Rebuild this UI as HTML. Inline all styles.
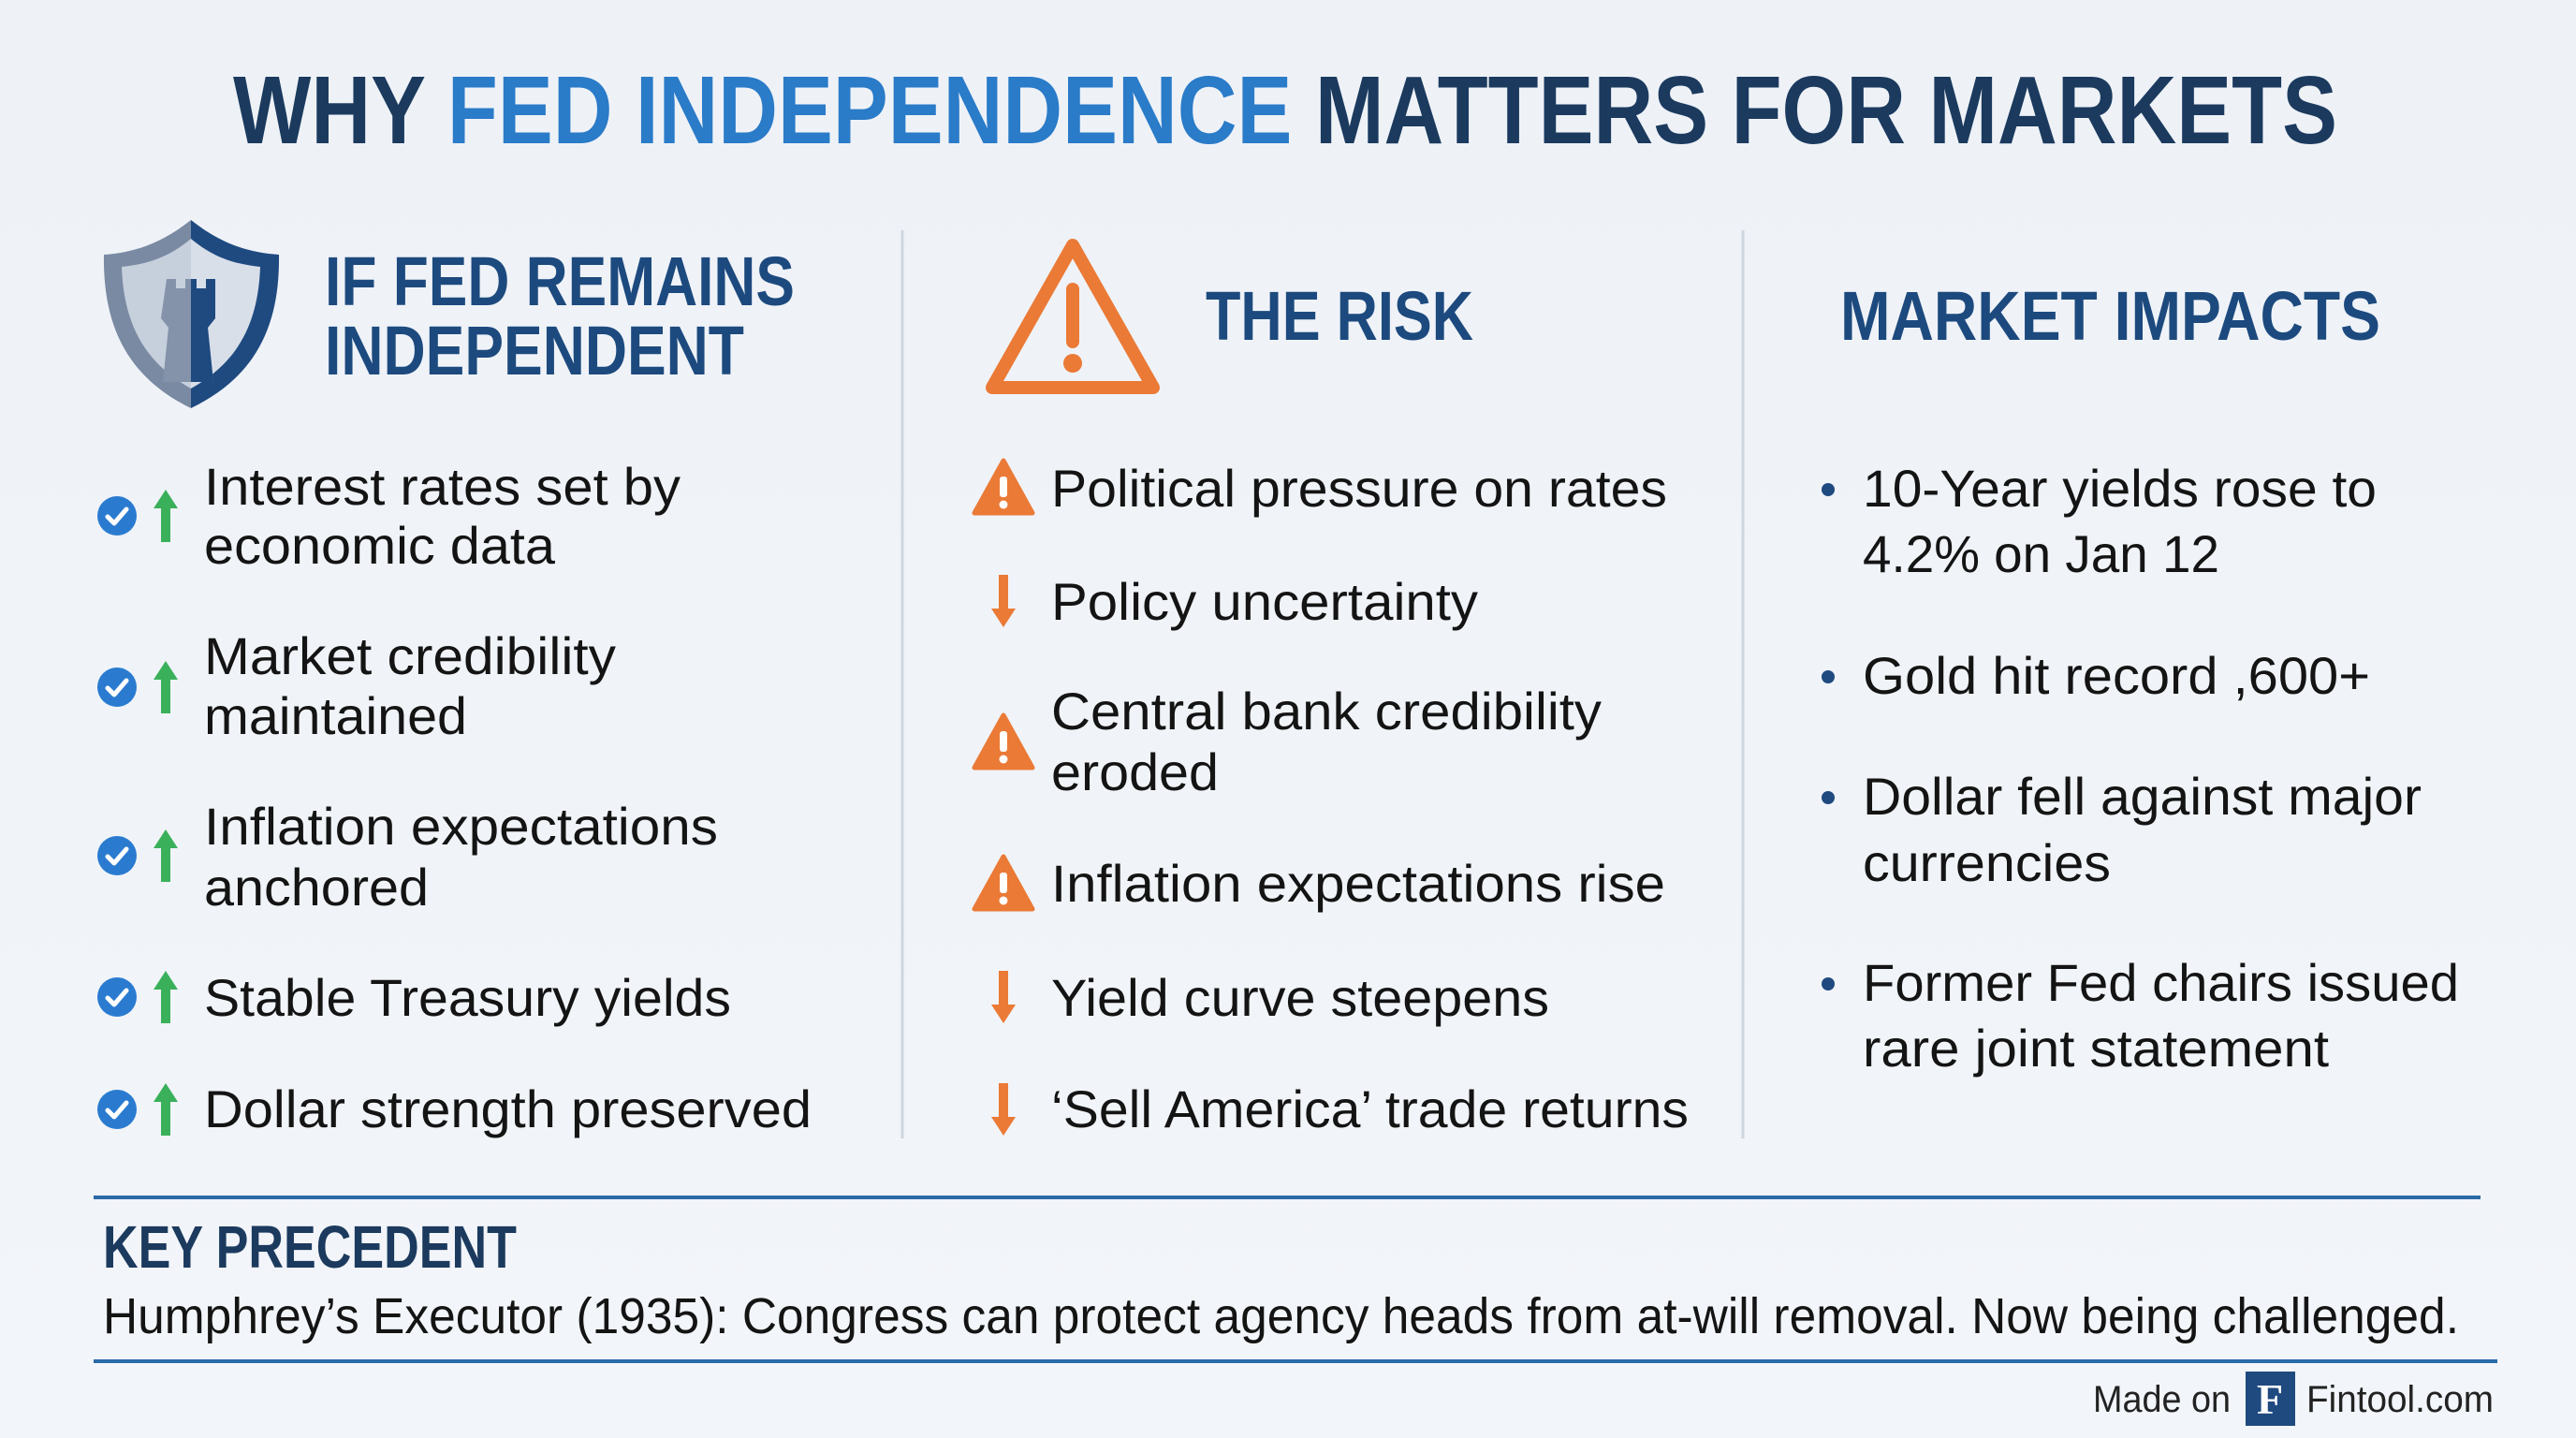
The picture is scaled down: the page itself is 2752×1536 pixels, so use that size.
<!DOCTYPE html>
<html><head><meta charset="utf-8"><style>
html,body{margin:0;padding:0;background:#eef2f7;}
svg{display:block}
text{font-family:"Liberation Sans",sans-serif;}
.h{font-weight:bold;fill:#1d4a7e;font-size:74px}
.b{fill:#141414;font-size:56px}
</style></head><body>
<svg width="2752" height="1536" viewBox="0 0 2752 1536" xmlns="http://www.w3.org/2000/svg">
<defs>
<linearGradient id="bg" x1="0" y1="0" x2="0" y2="1"><stop offset="0" stop-color="#eef2f7"/><stop offset="1" stop-color="#f2f5f9"/></linearGradient>
<g id="chk"><circle r="21" fill="#2a7bd0"/><path d="M-10 1 L-3 8 L10 -7" stroke="#fff" stroke-width="5" fill="none" stroke-linecap="round" stroke-linejoin="round"/></g>
<g id="up"><path d="M0 -28 L-13 -8 L-5 -8 L-5 28 L5 28 L5 -8 L13 -8 Z" fill="#3bb05a"/></g>
<g id="dn"><path d="M0 28 L-13 8 L-5 8 L-5 -28 L5 -28 L5 8 L13 8 Z" fill="#ea7a36"/></g>
<g id="wr"><path d="M0 -29 L31 27 L-31 27 Z" fill="#ea7a36" stroke="#ea7a36" stroke-width="5" stroke-linejoin="round"/><rect x="-4" y="-12" width="8" height="22" rx="3" fill="#fff"/><circle cy="18" r="4.5" fill="#fff"/></g>
</defs>
<rect width="2752" height="1536" fill="url(#bg)"/>

<text x="249" y="153" font-size="103" font-weight="bold" fill="#1b3a5e" textLength="2248" lengthAdjust="spacingAndGlyphs">WHY <tspan fill="#2a7bc8">FED INDEPENDENCE</tspan> MATTERS FOR MARKETS</text>

<!-- shield -->
<path d="M204 235 C170 262 140 270 111 272 C110 340 130 400 204 436 Z" fill="#7b8aa3"/>
<path d="M204 235 C238 262 268 270 298 272 C299 340 279 400 204 436 Z" fill="#1f4a80"/>
<path d="M204 255 C180 275 158 282 130 285 C132 340 150 385 204 415 Z" fill="#c6cfdc"/>
<path d="M204 255 C228 275 250 282 278 285 C276 340 258 385 204 415 Z" fill="#d8dfe9"/>
<path d="M178 298 h10 v10 h10 v-10 h12 v10 h10 v-10 h10 v42 l-8 10 l6 58 h-54 l6 -58 l-8 -10 Z" fill="#8493aa"/>
<path d="M204 298 h6 v10 h10 v-10 h10 v42 l-8 10 l6 58 h-24 Z" fill="#1f4a80"/>

<text class="h" x="347" y="326" textLength="502" lengthAdjust="spacingAndGlyphs">IF FED REMAINS</text>
<text class="h" x="347" y="400" textLength="448" lengthAdjust="spacingAndGlyphs">INDEPENDENT</text>

<!-- warning big -->
<path d="M1146 262 L1232 414 L1060 414 Z" fill="none" stroke="#ea7a36" stroke-width="14" stroke-linejoin="round"/>
<rect x="1139" y="302" width="14" height="70" rx="7" fill="#ea7a36"/>
<circle cx="1146" cy="388" r="10" fill="#ea7a36"/>
<text class="h" x="1288" y="363" textLength="286" lengthAdjust="spacingAndGlyphs">THE RISK</text>
<text class="h" x="1966" y="363" textLength="577" lengthAdjust="spacingAndGlyphs">MARKET IMPACTS</text>

<line x1="964" y1="246" x2="964" y2="1216" stroke="#cfd6e0" stroke-width="3"/>
<line x1="1862" y1="246" x2="1862" y2="1216" stroke="#cfd6e0" stroke-width="3"/>

<!-- left -->
<use href="#chk" x="125" y="551"/><use href="#up" x="177" y="551"/>
<use href="#chk" x="125" y="734"/><use href="#up" x="177" y="734"/>
<use href="#chk" x="125" y="914"/><use href="#up" x="177" y="914"/>
<use href="#chk" x="125" y="1065"/><use href="#up" x="177" y="1065"/>
<use href="#chk" x="125" y="1185"/><use href="#up" x="177" y="1185"/>
<text class="b" x="218" y="539" textLength="509" lengthAdjust="spacingAndGlyphs">Interest rates set by</text>
<text class="b" x="218" y="602" textLength="375" lengthAdjust="spacingAndGlyphs">economic data</text>
<text class="b" x="218" y="720" textLength="440" lengthAdjust="spacingAndGlyphs">Market credibility</text>
<text class="b" x="218" y="784" textLength="281" lengthAdjust="spacingAndGlyphs">maintained</text>
<text class="b" x="218" y="902" textLength="549" lengthAdjust="spacingAndGlyphs">Inflation expectations</text>
<text class="b" x="218" y="967" textLength="240" lengthAdjust="spacingAndGlyphs">anchored</text>
<text class="b" x="218" y="1085" textLength="563" lengthAdjust="spacingAndGlyphs">Stable Treasury yields</text>
<text class="b" x="218" y="1204" textLength="649" lengthAdjust="spacingAndGlyphs">Dollar strength preserved</text>

<!-- middle -->
<use href="#wr" x="1072" y="521"/>
<use href="#dn" x="1072" y="642"/>
<use href="#wr" x="1072" y="793"/>
<use href="#wr" x="1072" y="944"/>
<use href="#dn" x="1072" y="1065"/>
<use href="#dn" x="1072" y="1185"/>
<text class="b" x="1123" y="541" textLength="658" lengthAdjust="spacingAndGlyphs">Political pressure on rates</text>
<text class="b" x="1123" y="662" textLength="456" lengthAdjust="spacingAndGlyphs">Policy uncertainty</text>
<text class="b" x="1123" y="779" textLength="588" lengthAdjust="spacingAndGlyphs">Central bank credibility</text>
<text class="b" x="1123" y="844" textLength="179" lengthAdjust="spacingAndGlyphs">eroded</text>
<text class="b" x="1123" y="963" textLength="656" lengthAdjust="spacingAndGlyphs">Inflation expectations rise</text>
<text class="b" x="1123" y="1085" textLength="532" lengthAdjust="spacingAndGlyphs">Yield curve steepens</text>
<text class="b" x="1123" y="1204" textLength="681" lengthAdjust="spacingAndGlyphs">‘Sell America’ trade returns</text>

<!-- right -->
<g fill="#1f4a80"><circle cx="1953" cy="523" r="7"/><circle cx="1953" cy="723" r="7"/><circle cx="1953" cy="852" r="7"/><circle cx="1953" cy="1051" r="7"/></g>
<text class="b" x="1990" y="541" textLength="549" lengthAdjust="spacingAndGlyphs">10-Year yields rose to</text>
<text class="b" x="1990" y="611" textLength="381" lengthAdjust="spacingAndGlyphs">4.2% on Jan 12</text>
<text class="b" x="1990" y="741" textLength="542" lengthAdjust="spacingAndGlyphs">Gold hit record ,600+</text>
<text class="b" x="1990" y="870" textLength="597" lengthAdjust="spacingAndGlyphs">Dollar fell against major</text>
<text class="b" x="1990" y="941" textLength="265" lengthAdjust="spacingAndGlyphs">currencies</text>
<text class="b" x="1990" y="1069" textLength="637" lengthAdjust="spacingAndGlyphs">Former Fed chairs issued</text>
<text class="b" x="1990" y="1139" textLength="498" lengthAdjust="spacingAndGlyphs">rare joint statement</text>

<!-- bottom -->
<line x1="100" y1="1279" x2="2650" y2="1279" stroke="#2a6aa8" stroke-width="4"/>
<text x="110" y="1354" font-size="64" font-weight="bold" fill="#1b3a5e" textLength="442" lengthAdjust="spacingAndGlyphs">KEY PRECEDENT</text>
<text x="110" y="1424" font-size="54" fill="#141414" textLength="2517" lengthAdjust="spacingAndGlyphs">Humphrey’s Executor (1935): Congress can protect agency heads from at-will removal. Now being challenged.</text>
<line x1="100" y1="1454" x2="2668" y2="1454" stroke="#2a6aa8" stroke-width="4"/>
<text x="2236" y="1508" font-size="40" fill="#222" textLength="147" lengthAdjust="spacingAndGlyphs">Made on</text>
<rect x="2399" y="1465" width="53" height="58" fill="#1f4a80"/>
<text x="2425" y="1510" font-size="46" font-weight="bold" fill="#fff" text-anchor="middle" style="font-family:'Liberation Serif',serif">F</text>
<text x="2464" y="1508" font-size="40" fill="#222" textLength="200" lengthAdjust="spacingAndGlyphs">Fintool.com</text>
</svg>
</body></html>
